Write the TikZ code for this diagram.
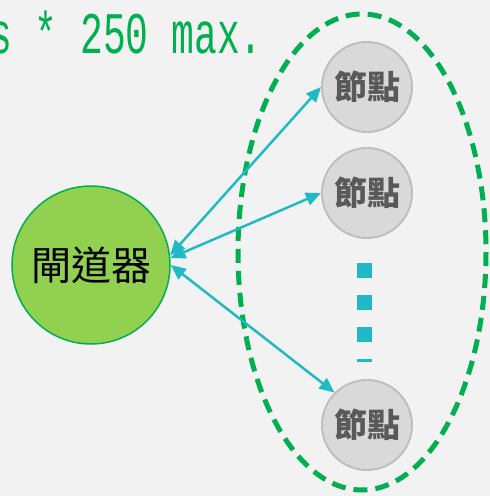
\documentclass[tikz,border=0pt]{standalone}
\usepackage{fontspec}
\usepackage{xcolor}
\usepackage{graphicx}
\usepackage{tikz}
\usetikzlibrary{arrows.meta, positioning, calc}
\newfontfamily\cjkfont{Noto Sans CJK TC}
\newfontfamily\codefont{Liberation Mono}
\definecolor{gwgreen}{HTML}{92D050}
\definecolor{linegreen}{HTML}{00B050}
\definecolor{nodegray}{HTML}{D9D9D9}
\definecolor{rimgray}{HTML}{BFBFBF}
\definecolor{textgray}{HTML}{595959}
\definecolor{linkcyan}{HTML}{1FBAC6}
\definecolor{bggray}{HTML}{F2F2F2}

\begin{document}
\begin{tikzpicture}[
				x=1pt, y=-1pt,
				gateway/.style={circle, draw=linegreen, line width=1.5pt, fill=gwgreen, minimum size=158pt, inner sep=0pt, font=\cjkfont\fontsize{40}{40}\selectfont},
				member/.style={circle, draw=rimgray, line width=2pt, fill=nodegray, minimum size=90pt, inner sep=0pt, text=textgray, font=\cjkfont\bfseries\fontsize{33}{33}\selectfont},
				link/.style={draw=linkcyan, line width=2.5pt, {Triangle[length=15pt,width=13pt]}-{Triangle[length=15pt,width=13pt]}}
				]
				\fill[bggray] (0,0) rectangle (490,496);
				\useasboundingbox (0,0) rectangle (490,496);
				% caption line, cut at the left edge
				\node[anchor=base west, inner sep=0pt, text=linegreen, font=\codefont\fontsize{38}{38}\selectfont] (limit) at (-11,53) {\scalebox{1}[1.55]{s * 250 max.}};
				% group of members
				\draw[linegreen, line width=5pt, dash pattern=on 14pt off 8pt] (362,252) ellipse [x radius=124, y radius=238];
				\node[gateway] (gw) at (91,265) {閘道器};
				\node[member] (n1) at (367,87) {節點};
				\node[member] (n2) at (367,193) {節點};
				\node[member] (n3) at (367,425) {節點};
				\coordinate (dots top) at (364.5,263);
				\coordinate (dots end) at (364.5,362);
				\draw[linkcyan, line width=15pt, dash pattern=on 15pt off 17pt] (dots top) -- (dots end);
				\draw[link] (gw.7) -- (n1.west);
				\draw[link] (gw.5) -- (n2.west);
				\draw[link] (gw.0) -- (n3.135);
			\end{tikzpicture}
\end{document}
